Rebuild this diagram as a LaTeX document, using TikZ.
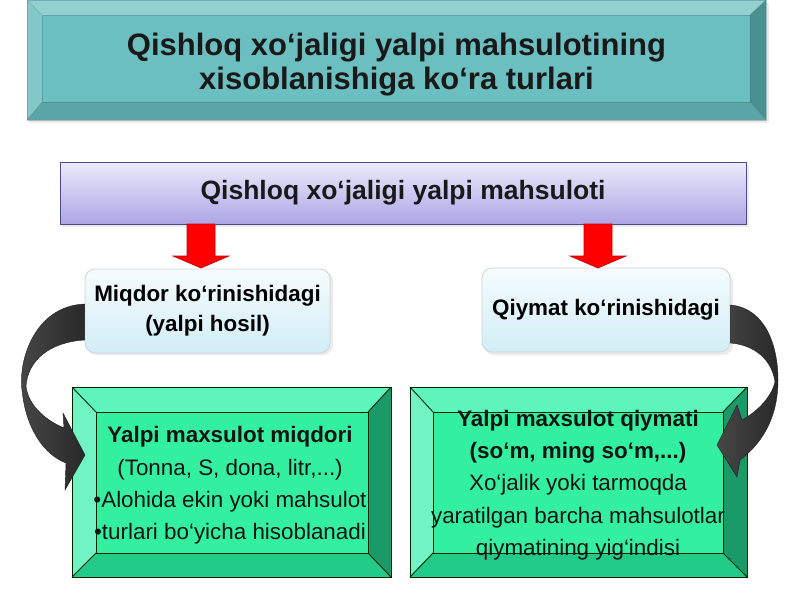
\documentclass[tikz,border=0pt]{standalone}
\usepackage{fontspec}
\setmainfont{Liberation Sans}
\usetikzlibrary{calc}
\definecolor{tealface}{HTML}{6CBFC0}
\definecolor{tealtop}{HTML}{93D0D0}
\definecolor{tealleft}{HTML}{82C8C9}
\definecolor{tealright}{HTML}{4B9091}
\definecolor{tealbot}{HTML}{5BA5A6}
\definecolor{grface}{HTML}{33F0A0}
\definecolor{grtop}{HTML}{5EF5BC}
\definecolor{grleft}{HTML}{70F4C4}
\definecolor{grright}{HTML}{1A9A68}
\definecolor{grbot}{HTML}{22CC88}
\definecolor{lavtop}{HTML}{ECEAFB}
\definecolor{lavbot}{HTML}{ADA6E6}
\definecolor{cyantop}{HTML}{F5FCFE}
\definecolor{cyanbot}{HTML}{D2EDF6}
\newcommand{\bevbox}[9]{%
  \fill[#9face] (#5,#6) rectangle (#7,#8);
  \fill[#9top] (#1,#2)--(#3,#2)--(#7,#6)--(#5,#6)--cycle;
  \fill[#9left] (#1,#2)--(#5,#6)--(#5,#8)--(#1,#4)--cycle;
  \fill[#9right] (#3,#2)--(#3,#4)--(#7,#8)--(#7,#6)--cycle;
  \fill[#9bot] (#1,#4)--(#3,#4)--(#7,#8)--(#5,#8)--cycle;
  \draw[#9line] (#1,#2) rectangle (#3,#4);
  \draw[#9line] (#5,#6) rectangle (#7,#8);
  \draw[#9line] (#1,#2)--(#5,#6) (#3,#2)--(#7,#6) (#3,#4)--(#7,#8) (#1,#4)--(#5,#8);
}
\tikzset{
  tealline/.style={line width=0.5pt, draw=tealright!80!black, draw opacity=0.35},
  grline/.style={line width=0.9pt, draw=black!75!green!60!black},
  titletext/.style={font=\bfseries\fontsize{31}{34}\selectfont, align=center, text=black!90, inner sep=0pt},
  mainbox/.style={draw=black!45!blue!40!gray, line width=0.7pt, top color=lavtop, bottom color=lavbot,
     font=\bfseries\fontsize{26.5}{30}\selectfont, text=black!90, inner sep=0pt},
  rbox/.style={draw=gray!35, line width=0.8pt, rounded corners=10pt, top color=cyantop, bottom color=cyanbot,
     font=\bfseries\fontsize{22.4}{30}\selectfont, align=center, inner sep=0pt},
  gtext/.style={font=\fontsize{22.4}{32.3}\selectfont, align=center, inner sep=0pt, text=black!92},
  redarr/.style={fill=red, draw=red!75!black, line width=0.6pt},
  curvearr/.style={left color=black!72, right color=black!84, draw=black!88, line width=0.4pt},
  shadowfill/.style={fill=black, fill opacity=0.08}
}
\begin{document}
\begin{tikzpicture}[x=1pt,y=-1pt]
\useasboundingbox (0,0) rectangle (800,600);
\fill[white] (0,0) rectangle (800,600);

% title
\fill[shadowfill] (29,3) rectangle (769,123);
\bevbox{27}{0}{766}{120}{42}{15}{750}{102}{teal}
\node[titletext] (title) at (396.5,64.5) {Qishloq xo‘jaligi yalpi mahsulotining\\xisoblanishiga ko‘ra turlari};

% main box
\fill[shadowfill] (62,165) rectangle (749,227);
\node[mainbox, minimum width=686pt, minimum height=62pt] (main) at (403,193) {Qishloq xo‘jaligi yalpi mahsuloti};

% rounded boxes
\fill[shadowfill, rounded corners=10pt] (87,271) rectangle (333,355);
\fill[shadowfill, rounded corners=10pt] (484,271) rectangle (733,355);
\node[rbox, minimum width=245pt, minimum height=84pt] (miq) at (207.5,311) {Miqdor ko‘rinishidagi\\(yalpi hosil)};
\node[rbox, minimum width=248pt, minimum height=84pt] (qiy) at (606,310) {Qiymat ko‘rinishidagi};

% red arrows
\coordinate (la) at (201,268);
\coordinate (ra) at (598,268);
\filldraw[redarr] (la) -- ++(-28,-12) -- ++(14,0) -- ++(0,-32) -- ++(28,0) -- ++(0,32) -- ++(14,0) -- cycle;
\filldraw[redarr] (ra) -- ++(-28,-12) -- ++(14,0) -- ++(0,-32) -- ++(28,0) -- ++(0,32) -- ++(14,0) -- cycle;

% green boxes
\bevbox{72}{387}{391}{577}{96}{412}{368}{553}{gr}
\bevbox{410}{387}{747}{577}{433}{412}{723}{553}{gr}
\node[gtext] (lq) at (230,485.5) {\textbf{Yalpi maxsulot miqdori}\\(Tonna, S, dona, litr,...)\\•Alohida ekin yoki mahsulot\\•turlari bo‘yicha hisoblanadi};
\node[gtext] (rq) at (578,485) {\textbf{Yalpi maxsulot qiymati}\\\textbf{(so‘m, ming so‘m,...)}\\Xo‘jalik yoki tarmoqda\\yaratilgan barcha mahsulotlar\\qiymatining yig‘indisi};

% curved arrows
\path[curvearr] (miq.west |- 0,304) .. controls (35,306) and (18,360) .. (22,390)
   .. controls (26,430) and (45,455) .. (66,463) -- (65,490) -- (85,455) -- (63,413) -- (64,428)
   .. controls (45,420) and (28,405) .. (26,386) .. controls (28,360) and (50,342) .. (miq.west |- 0,340) -- cycle;
\path[curvearr] (qiy.east |- 0,305) .. controls (765,308) and (778,345) .. (778,380)
   .. controls (778,420) and (760,445) .. (740,460) -- (737,477) -- (717,445) -- (737,405) -- (742,420)
   .. controls (760,410) and (772,395) .. (775,382) .. controls (772,360) and (755,345) .. (qiy.east |- 0,343) -- cycle;
\end{tikzpicture}
\end{document}
